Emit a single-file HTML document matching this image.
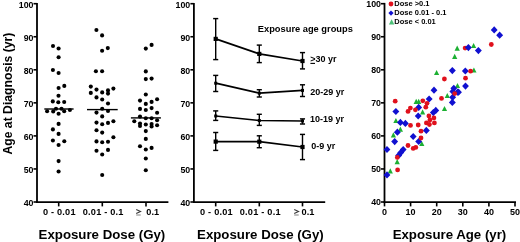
<!DOCTYPE html>
<html><head><meta charset="utf-8"><style>
html,body{margin:0;padding:0;background:#fff;width:520px;height:242px;overflow:hidden}
svg{display:block;filter:blur(0.3px)}
text{font-family:"Liberation Sans", sans-serif;font-weight:bold;fill:#000}
</style></head><body>
<svg width="520" height="242" viewBox="0 0 520 242">
<line x1="37.00" y1="2.90" x2="37.00" y2="203.10" stroke="#000" stroke-width="1.8"/>
<line x1="36.10" y1="202.20" x2="168.40" y2="202.20" stroke="#000" stroke-width="1.8"/>
<line x1="33.50" y1="202.00" x2="37.00" y2="202.00" stroke="#000" stroke-width="1.6"/>
<text x="33.50" y="205.80" font-size="9.6" text-anchor="end" textLength="9.82" lengthAdjust="spacingAndGlyphs">40</text>
<line x1="33.50" y1="168.95" x2="37.00" y2="168.95" stroke="#000" stroke-width="1.6"/>
<text x="33.50" y="172.75" font-size="9.6" text-anchor="end" textLength="9.82" lengthAdjust="spacingAndGlyphs">50</text>
<line x1="33.50" y1="135.90" x2="37.00" y2="135.90" stroke="#000" stroke-width="1.6"/>
<text x="33.50" y="139.70" font-size="9.6" text-anchor="end" textLength="9.82" lengthAdjust="spacingAndGlyphs">60</text>
<line x1="33.50" y1="102.85" x2="37.00" y2="102.85" stroke="#000" stroke-width="1.6"/>
<text x="33.50" y="106.65" font-size="9.6" text-anchor="end" textLength="9.82" lengthAdjust="spacingAndGlyphs">70</text>
<line x1="33.50" y1="69.80" x2="37.00" y2="69.80" stroke="#000" stroke-width="1.6"/>
<text x="33.50" y="73.60" font-size="9.6" text-anchor="end" textLength="9.82" lengthAdjust="spacingAndGlyphs">80</text>
<line x1="33.50" y1="36.75" x2="37.00" y2="36.75" stroke="#000" stroke-width="1.6"/>
<text x="33.50" y="40.55" font-size="9.6" text-anchor="end" textLength="9.82" lengthAdjust="spacingAndGlyphs">90</text>
<line x1="33.50" y1="3.70" x2="37.00" y2="3.70" stroke="#000" stroke-width="1.6"/>
<text x="33.50" y="7.50" font-size="9.6" text-anchor="end" textLength="14.73" lengthAdjust="spacingAndGlyphs">100</text>
<line x1="58.70" y1="202.00" x2="58.70" y2="206.40" stroke="#000" stroke-width="1.6"/>
<line x1="102.30" y1="202.00" x2="102.30" y2="206.40" stroke="#000" stroke-width="1.6"/>
<line x1="146.00" y1="202.00" x2="146.00" y2="206.40" stroke="#000" stroke-width="1.6"/>
<line x1="193.90" y1="2.90" x2="193.90" y2="203.10" stroke="#000" stroke-width="1.8"/>
<line x1="193.00" y1="202.20" x2="325.20" y2="202.20" stroke="#000" stroke-width="1.8"/>
<line x1="190.40" y1="202.00" x2="193.90" y2="202.00" stroke="#000" stroke-width="1.6"/>
<text x="190.20" y="205.80" font-size="9.6" text-anchor="end" textLength="9.82" lengthAdjust="spacingAndGlyphs">40</text>
<line x1="190.40" y1="168.95" x2="193.90" y2="168.95" stroke="#000" stroke-width="1.6"/>
<text x="190.20" y="172.75" font-size="9.6" text-anchor="end" textLength="9.82" lengthAdjust="spacingAndGlyphs">50</text>
<line x1="190.40" y1="135.90" x2="193.90" y2="135.90" stroke="#000" stroke-width="1.6"/>
<text x="190.20" y="139.70" font-size="9.6" text-anchor="end" textLength="9.82" lengthAdjust="spacingAndGlyphs">60</text>
<line x1="190.40" y1="102.85" x2="193.90" y2="102.85" stroke="#000" stroke-width="1.6"/>
<text x="190.20" y="106.65" font-size="9.6" text-anchor="end" textLength="9.82" lengthAdjust="spacingAndGlyphs">70</text>
<line x1="190.40" y1="69.80" x2="193.90" y2="69.80" stroke="#000" stroke-width="1.6"/>
<text x="190.20" y="73.60" font-size="9.6" text-anchor="end" textLength="9.82" lengthAdjust="spacingAndGlyphs">80</text>
<line x1="190.40" y1="36.75" x2="193.90" y2="36.75" stroke="#000" stroke-width="1.6"/>
<text x="190.20" y="40.55" font-size="9.6" text-anchor="end" textLength="9.82" lengthAdjust="spacingAndGlyphs">90</text>
<line x1="190.40" y1="3.70" x2="193.90" y2="3.70" stroke="#000" stroke-width="1.6"/>
<text x="190.20" y="7.50" font-size="9.6" text-anchor="end" textLength="14.73" lengthAdjust="spacingAndGlyphs">100</text>
<line x1="215.70" y1="202.00" x2="215.70" y2="206.40" stroke="#000" stroke-width="1.6"/>
<line x1="259.30" y1="202.00" x2="259.30" y2="206.40" stroke="#000" stroke-width="1.6"/>
<line x1="302.50" y1="202.00" x2="302.50" y2="206.40" stroke="#000" stroke-width="1.6"/>
<line x1="384.50" y1="2.90" x2="384.50" y2="203.10" stroke="#000" stroke-width="1.8"/>
<line x1="383.60" y1="202.20" x2="516.00" y2="202.20" stroke="#000" stroke-width="1.8"/>
<line x1="381.00" y1="202.00" x2="384.50" y2="202.00" stroke="#000" stroke-width="1.6"/>
<text x="381.00" y="205.40" font-size="9.6" text-anchor="end" textLength="9.82" lengthAdjust="spacingAndGlyphs">40</text>
<line x1="381.00" y1="168.95" x2="384.50" y2="168.95" stroke="#000" stroke-width="1.6"/>
<text x="381.00" y="172.35" font-size="9.6" text-anchor="end" textLength="9.82" lengthAdjust="spacingAndGlyphs">50</text>
<line x1="381.00" y1="135.90" x2="384.50" y2="135.90" stroke="#000" stroke-width="1.6"/>
<text x="381.00" y="139.30" font-size="9.6" text-anchor="end" textLength="9.82" lengthAdjust="spacingAndGlyphs">60</text>
<line x1="381.00" y1="102.85" x2="384.50" y2="102.85" stroke="#000" stroke-width="1.6"/>
<text x="381.00" y="106.25" font-size="9.6" text-anchor="end" textLength="9.82" lengthAdjust="spacingAndGlyphs">70</text>
<line x1="381.00" y1="69.80" x2="384.50" y2="69.80" stroke="#000" stroke-width="1.6"/>
<text x="381.00" y="73.20" font-size="9.6" text-anchor="end" textLength="9.82" lengthAdjust="spacingAndGlyphs">80</text>
<line x1="381.00" y1="36.75" x2="384.50" y2="36.75" stroke="#000" stroke-width="1.6"/>
<text x="381.00" y="40.15" font-size="9.6" text-anchor="end" textLength="9.82" lengthAdjust="spacingAndGlyphs">90</text>
<line x1="381.00" y1="3.70" x2="384.50" y2="3.70" stroke="#000" stroke-width="1.6"/>
<text x="381.00" y="7.10" font-size="9.6" text-anchor="end" textLength="14.73" lengthAdjust="spacingAndGlyphs">100</text>
<line x1="384.50" y1="202.00" x2="384.50" y2="206.40" stroke="#000" stroke-width="1.6"/>
<text x="384.50" y="215.00" font-size="9" text-anchor="middle" >0</text>
<line x1="410.60" y1="202.00" x2="410.60" y2="206.40" stroke="#000" stroke-width="1.6"/>
<text x="410.60" y="215.00" font-size="9" text-anchor="middle" >10</text>
<line x1="436.70" y1="202.00" x2="436.70" y2="206.40" stroke="#000" stroke-width="1.6"/>
<text x="436.70" y="215.00" font-size="9" text-anchor="middle" >20</text>
<line x1="462.80" y1="202.00" x2="462.80" y2="206.40" stroke="#000" stroke-width="1.6"/>
<text x="462.80" y="215.00" font-size="9" text-anchor="middle" >30</text>
<line x1="488.90" y1="202.00" x2="488.90" y2="206.40" stroke="#000" stroke-width="1.6"/>
<text x="488.90" y="215.00" font-size="9" text-anchor="middle" >40</text>
<line x1="515.00" y1="202.00" x2="515.00" y2="206.40" stroke="#000" stroke-width="1.6"/>
<text x="515.00" y="215.00" font-size="9" text-anchor="middle" >50</text>
<text x="59.20" y="215.1" font-size="9.2" text-anchor="middle" textLength="32.6" lengthAdjust="spacing">0 - 0.01</text>
<text x="103.10" y="215.1" font-size="9.2" text-anchor="middle" textLength="40.8" lengthAdjust="spacing">0.01 - 0.1</text>
<path d="M136.20,209.4 L140.50,211.4 L136.20,213.4" fill="none" stroke="#3a3a3a" stroke-width="1.15"/>
<path d="M136.20,215.0 L140.70,215.0" fill="none" stroke="#8a8a8a" stroke-width="1.1"/>
<text x="146.30" y="215.1" font-size="9.2">0.1</text>
<text x="216.35" y="215.1" font-size="9.2" text-anchor="middle" textLength="32.6" lengthAdjust="spacing">0 - 0.01</text>
<text x="260.15" y="215.1" font-size="9.2" text-anchor="middle" textLength="40.8" lengthAdjust="spacing">0.01 - 0.1</text>
<path d="M294.20,209.4 L298.50,211.4 L294.20,213.4" fill="none" stroke="#3a3a3a" stroke-width="1.15"/>
<path d="M294.20,215.0 L298.70,215.0" fill="none" stroke="#8a8a8a" stroke-width="1.1"/>
<text x="301.60" y="215.1" font-size="9.2">0.1</text>
<text x="101.95" y="238.70" font-size="13.25" text-anchor="middle" >Exposure Dose (Gy)</text>
<text x="260.40" y="238.70" font-size="13.25" text-anchor="middle" >Exposure Dose (Gy)</text>
<text x="449.45" y="238.70" font-size="13.25" text-anchor="middle" >Exposure Age (yr)</text>
<text x="0" y="0" font-size="12.2" text-anchor="middle" transform="translate(11.9 93.6) rotate(-90)">Age at Diagnosis (yr)</text>
<circle cx="53.0" cy="46.0" r="2.05"/>
<circle cx="58.6" cy="48.5" r="2.05"/>
<circle cx="58.6" cy="57.3" r="2.05"/>
<circle cx="52.9" cy="70.0" r="2.05"/>
<circle cx="58.6" cy="73.0" r="2.05"/>
<circle cx="64.3" cy="85.9" r="2.05"/>
<circle cx="58.6" cy="88.0" r="2.05"/>
<circle cx="58.5" cy="95.8" r="2.05"/>
<circle cx="52.8" cy="101.4" r="2.05"/>
<circle cx="58.3" cy="102.2" r="2.05"/>
<circle cx="64.2" cy="102.0" r="2.05"/>
<circle cx="47.1" cy="111.2" r="2.05"/>
<circle cx="53.2" cy="111.4" r="2.05"/>
<circle cx="56.0" cy="108.8" r="2.05"/>
<circle cx="58.6" cy="113.7" r="2.05"/>
<circle cx="61.5" cy="108.8" r="2.05"/>
<circle cx="64.2" cy="111.3" r="2.05"/>
<circle cx="69.9" cy="110.0" r="2.05"/>
<circle cx="58.6" cy="123.9" r="2.05"/>
<circle cx="52.9" cy="129.4" r="2.05"/>
<circle cx="58.6" cy="133.9" r="2.05"/>
<circle cx="52.9" cy="140.5" r="2.05"/>
<circle cx="64.3" cy="141.3" r="2.05"/>
<circle cx="58.6" cy="145.0" r="2.05"/>
<circle cx="58.6" cy="161.1" r="2.05"/>
<circle cx="58.6" cy="171.5" r="2.05"/>
<circle cx="96.4" cy="30.0" r="2.05"/>
<circle cx="102.1" cy="35.4" r="2.05"/>
<circle cx="107.8" cy="48.1" r="2.05"/>
<circle cx="102.1" cy="50.8" r="2.05"/>
<circle cx="95.9" cy="71.2" r="2.05"/>
<circle cx="102.1" cy="71.2" r="2.05"/>
<circle cx="90.8" cy="86.6" r="2.05"/>
<circle cx="96.5" cy="89.6" r="2.05"/>
<circle cx="90.8" cy="92.9" r="2.05"/>
<circle cx="102.2" cy="92.4" r="2.05"/>
<circle cx="108.0" cy="90.4" r="2.05"/>
<circle cx="108.0" cy="93.6" r="2.05"/>
<circle cx="113.4" cy="88.6" r="2.05"/>
<circle cx="96.5" cy="97.4" r="2.05"/>
<circle cx="102.2" cy="99.5" r="2.05"/>
<circle cx="108.0" cy="103.5" r="2.05"/>
<circle cx="102.2" cy="108.8" r="2.05"/>
<circle cx="108.0" cy="111.0" r="2.05"/>
<circle cx="96.5" cy="112.6" r="2.05"/>
<circle cx="102.2" cy="116.4" r="2.05"/>
<circle cx="113.4" cy="121.2" r="2.05"/>
<circle cx="96.5" cy="122.6" r="2.05"/>
<circle cx="102.2" cy="124.2" r="2.05"/>
<circle cx="108.0" cy="122.9" r="2.05"/>
<circle cx="96.5" cy="130.2" r="2.05"/>
<circle cx="102.2" cy="132.6" r="2.05"/>
<circle cx="113.4" cy="137.3" r="2.05"/>
<circle cx="96.5" cy="141.4" r="2.05"/>
<circle cx="102.2" cy="142.2" r="2.05"/>
<circle cx="108.0" cy="141.7" r="2.05"/>
<circle cx="96.5" cy="150.7" r="2.05"/>
<circle cx="108.0" cy="149.9" r="2.05"/>
<circle cx="102.2" cy="154.5" r="2.05"/>
<circle cx="102.2" cy="175.0" r="2.05"/>
<circle cx="151.6" cy="44.9" r="2.05"/>
<circle cx="145.8" cy="48.6" r="2.05"/>
<circle cx="145.8" cy="71.4" r="2.05"/>
<circle cx="145.8" cy="79.1" r="2.05"/>
<circle cx="151.6" cy="78.6" r="2.05"/>
<circle cx="145.8" cy="94.5" r="2.05"/>
<circle cx="140.0" cy="100.6" r="2.05"/>
<circle cx="145.8" cy="103.9" r="2.05"/>
<circle cx="151.6" cy="101.9" r="2.05"/>
<circle cx="157.1" cy="99.3" r="2.05"/>
<circle cx="140.0" cy="108.9" r="2.05"/>
<circle cx="145.8" cy="110.0" r="2.05"/>
<circle cx="151.6" cy="108.1" r="2.05"/>
<circle cx="157.1" cy="112.7" r="2.05"/>
<circle cx="134.3" cy="121.2" r="2.05"/>
<circle cx="140.0" cy="116.6" r="2.05"/>
<circle cx="145.8" cy="118.3" r="2.05"/>
<circle cx="151.6" cy="118.3" r="2.05"/>
<circle cx="157.1" cy="120.3" r="2.05"/>
<circle cx="140.0" cy="123.5" r="2.05"/>
<circle cx="140.0" cy="126.0" r="2.05"/>
<circle cx="145.8" cy="124.5" r="2.05"/>
<circle cx="151.6" cy="124.0" r="2.05"/>
<circle cx="151.6" cy="126.5" r="2.05"/>
<circle cx="157.1" cy="125.3" r="2.05"/>
<circle cx="145.8" cy="131.1" r="2.05"/>
<circle cx="145.8" cy="138.9" r="2.05"/>
<circle cx="140.0" cy="146.2" r="2.05"/>
<circle cx="145.8" cy="149.5" r="2.05"/>
<circle cx="151.6" cy="147.9" r="2.05"/>
<circle cx="145.8" cy="158.5" r="2.05"/>
<circle cx="145.8" cy="170.2" r="2.05"/>
<line x1="44.30" y1="109.00" x2="73.60" y2="109.00" stroke="#000" stroke-width="1.4"/>
<line x1="87.00" y1="109.60" x2="117.70" y2="109.60" stroke="#000" stroke-width="1.4"/>
<line x1="130.90" y1="117.90" x2="160.90" y2="117.90" stroke="#000" stroke-width="1.4"/>
<polyline points="215.7,38.9 259.3,53.9 302.5,61.0" fill="none" stroke="#000" stroke-width="1.7"/>
<line x1="215.70" y1="18.60" x2="215.70" y2="59.60" stroke="#000" stroke-width="1.4"/>
<line x1="213.15" y1="18.60" x2="218.25" y2="18.60" stroke="#000" stroke-width="1.45"/>
<line x1="213.15" y1="59.60" x2="218.25" y2="59.60" stroke="#000" stroke-width="1.45"/>
<rect x="213.60" y="36.80" width="4.2" height="4.2"/>
<line x1="259.30" y1="45.10" x2="259.30" y2="62.60" stroke="#000" stroke-width="1.4"/>
<line x1="256.75" y1="45.10" x2="261.85" y2="45.10" stroke="#000" stroke-width="1.45"/>
<line x1="256.75" y1="62.60" x2="261.85" y2="62.60" stroke="#000" stroke-width="1.45"/>
<rect x="257.20" y="51.80" width="4.2" height="4.2"/>
<line x1="302.50" y1="52.60" x2="302.50" y2="68.90" stroke="#000" stroke-width="1.4"/>
<line x1="299.95" y1="52.60" x2="305.05" y2="52.60" stroke="#000" stroke-width="1.45"/>
<line x1="299.95" y1="68.90" x2="305.05" y2="68.90" stroke="#000" stroke-width="1.45"/>
<rect x="300.40" y="58.90" width="4.2" height="4.2"/>
<polyline points="215.7,83.2 259.3,93.2 302.5,90.4" fill="none" stroke="#000" stroke-width="1.7"/>
<line x1="215.70" y1="75.40" x2="215.70" y2="91.50" stroke="#000" stroke-width="1.4"/>
<line x1="213.15" y1="75.40" x2="218.25" y2="75.40" stroke="#000" stroke-width="1.45"/>
<line x1="213.15" y1="91.50" x2="218.25" y2="91.50" stroke="#000" stroke-width="1.45"/>
<rect x="214.20" y="81.70" width="3.0" height="3.0"/>
<line x1="259.30" y1="89.70" x2="259.30" y2="97.00" stroke="#000" stroke-width="1.4"/>
<line x1="256.75" y1="89.70" x2="261.85" y2="89.70" stroke="#000" stroke-width="1.45"/>
<line x1="256.75" y1="97.00" x2="261.85" y2="97.00" stroke="#000" stroke-width="1.45"/>
<rect x="257.80" y="91.70" width="3.0" height="3.0"/>
<line x1="302.50" y1="84.80" x2="302.50" y2="96.50" stroke="#000" stroke-width="1.4"/>
<line x1="299.95" y1="84.80" x2="305.05" y2="84.80" stroke="#000" stroke-width="1.45"/>
<line x1="299.95" y1="96.50" x2="305.05" y2="96.50" stroke="#000" stroke-width="1.45"/>
<rect x="301.00" y="88.90" width="3.0" height="3.0"/>
<polyline points="215.7,116.0 259.3,120.5 302.5,121.0" fill="none" stroke="#000" stroke-width="1.7"/>
<line x1="215.70" y1="110.90" x2="215.70" y2="120.40" stroke="#000" stroke-width="1.4"/>
<line x1="213.15" y1="110.90" x2="218.25" y2="110.90" stroke="#000" stroke-width="1.45"/>
<line x1="213.15" y1="120.40" x2="218.25" y2="120.40" stroke="#000" stroke-width="1.45"/>
<rect x="214.20" y="114.50" width="3.0" height="3.0"/>
<line x1="259.30" y1="114.30" x2="259.30" y2="125.40" stroke="#000" stroke-width="1.4"/>
<line x1="256.75" y1="114.30" x2="261.85" y2="114.30" stroke="#000" stroke-width="1.45"/>
<line x1="256.75" y1="125.40" x2="261.85" y2="125.40" stroke="#000" stroke-width="1.45"/>
<rect x="257.80" y="119.00" width="3.0" height="3.0"/>
<line x1="302.50" y1="118.90" x2="302.50" y2="124.00" stroke="#000" stroke-width="1.4"/>
<line x1="299.95" y1="118.90" x2="305.05" y2="118.90" stroke="#000" stroke-width="1.45"/>
<line x1="299.95" y1="124.00" x2="305.05" y2="124.00" stroke="#000" stroke-width="1.45"/>
<rect x="301.00" y="119.50" width="3.0" height="3.0"/>
<polyline points="215.7,141.6 259.3,141.7 302.5,147.0" fill="none" stroke="#000" stroke-width="1.7"/>
<line x1="215.70" y1="132.50" x2="215.70" y2="150.40" stroke="#000" stroke-width="1.4"/>
<line x1="213.15" y1="132.50" x2="218.25" y2="132.50" stroke="#000" stroke-width="1.45"/>
<line x1="213.15" y1="150.40" x2="218.25" y2="150.40" stroke="#000" stroke-width="1.45"/>
<rect x="213.60" y="139.50" width="4.2" height="4.2"/>
<line x1="259.30" y1="135.80" x2="259.30" y2="147.70" stroke="#000" stroke-width="1.4"/>
<line x1="256.75" y1="135.80" x2="261.85" y2="135.80" stroke="#000" stroke-width="1.45"/>
<line x1="256.75" y1="147.70" x2="261.85" y2="147.70" stroke="#000" stroke-width="1.45"/>
<rect x="257.20" y="139.60" width="4.2" height="4.2"/>
<line x1="302.50" y1="134.40" x2="302.50" y2="159.60" stroke="#000" stroke-width="1.4"/>
<line x1="299.95" y1="134.40" x2="305.05" y2="134.40" stroke="#000" stroke-width="1.45"/>
<line x1="299.95" y1="159.60" x2="305.05" y2="159.60" stroke="#000" stroke-width="1.45"/>
<rect x="300.40" y="144.90" width="4.2" height="4.2"/>
<text x="257.80" y="32.30" font-size="9.3" text-anchor="start" >Exposure age groups</text>
<text x="310.2" y="62.1" font-size="9">&gt;30 yr</text>
<line x1="310.40" y1="63.40" x2="315.00" y2="63.40" stroke="#000" stroke-width="1.1"/>
<text x="310.20" y="94.50" font-size="9" text-anchor="start" >20-29 yr</text>
<text x="309.90" y="121.90" font-size="9" text-anchor="start" >10-19 yr</text>
<text x="311.30" y="149.20" font-size="9" text-anchor="start" >0-9 yr</text>
<polygon points="390.3,168.3 392.9,173.4 387.7,173.4" fill="#1cb032"/>
<polygon points="397.2,159.1 399.8,164.2 394.6,164.2" fill="#1cb032"/>
<polygon points="395.9,117.9 398.5,123.0 393.3,123.0" fill="#1cb032"/>
<polygon points="400.4,126.6 403.0,131.7 397.8,131.7" fill="#1cb032"/>
<polygon points="393.4,132.3 396.0,137.4 390.8,137.4" fill="#1cb032"/>
<polygon points="416.2,98.8 418.8,103.9 413.6,103.9" fill="#1cb032"/>
<polygon points="418.7,98.8 421.3,103.9 416.1,103.9" fill="#1cb032"/>
<polygon points="422.6,109.3 425.2,114.4 420.0,114.4" fill="#1cb032"/>
<polygon points="421.8,140.9 424.4,146.0 419.2,146.0" fill="#1cb032"/>
<polygon points="444.5,106.0 447.1,111.1 441.9,111.1" fill="#1cb032"/>
<polygon points="447.3,92.9 449.9,98.0 444.7,98.0" fill="#1cb032"/>
<polygon points="457.5,83.0 460.1,88.1 454.9,88.1" fill="#1cb032"/>
<polygon points="436.6,69.9 439.2,75.0 434.0,75.0" fill="#1cb032"/>
<polygon points="454.7,53.8 457.3,58.9 452.1,58.9" fill="#1cb032"/>
<polygon points="457.2,45.6 459.8,50.7 454.6,50.7" fill="#1cb032"/>
<polygon points="473.6,42.9 476.2,48.0 471.0,48.0" fill="#1cb032"/>
<polygon points="473.9,67.5 476.5,72.6 471.3,72.6" fill="#1cb032"/>
<polygon points="387.0,171.3 390.4,174.9 387.0,178.5 383.6,174.9" fill="#1010d0"/>
<polygon points="387.0,145.9 390.4,149.5 387.0,153.1 383.6,149.5" fill="#1010d0"/>
<polygon points="394.7,138.0 398.1,141.6 394.7,145.2 391.2,141.6" fill="#1010d0"/>
<polygon points="397.4,128.6 400.8,132.2 397.4,135.8 393.9,132.2" fill="#1010d0"/>
<polygon points="400.4,118.8 403.8,122.4 400.4,126.0 396.9,122.4" fill="#1010d0"/>
<polygon points="405.4,119.8 408.8,123.4 405.4,127.0 401.9,123.4" fill="#1010d0"/>
<polygon points="413.2,132.9 416.6,136.5 413.2,140.1 409.8,136.5" fill="#1010d0"/>
<polygon points="418.7,137.9 422.1,141.5 418.7,145.1 415.2,141.5" fill="#1010d0"/>
<polygon points="403.2,146.0 406.6,149.6 403.2,153.2 399.8,149.6" fill="#1010d0"/>
<polygon points="400.8,149.0 404.2,152.6 400.8,156.2 397.4,152.6" fill="#1010d0"/>
<polygon points="398.6,151.8 402.1,155.4 398.6,159.0 395.2,155.4" fill="#1010d0"/>
<polygon points="395.9,107.9 399.3,111.5 395.9,115.1 392.4,111.5" fill="#1010d0"/>
<polygon points="418.7,103.8 422.1,107.4 418.7,111.0 415.2,107.4" fill="#1010d0"/>
<polygon points="418.2,112.4 421.6,116.0 418.2,119.6 414.8,116.0" fill="#1010d0"/>
<polygon points="426.3,126.8 429.8,130.4 426.3,134.0 422.9,130.4" fill="#1010d0"/>
<polygon points="429.1,95.4 432.6,99.0 429.1,102.6 425.7,99.0" fill="#1010d0"/>
<polygon points="434.0,86.6 437.4,90.2 434.0,93.8 430.6,90.2" fill="#1010d0"/>
<polygon points="435.8,106.8 439.2,110.4 435.8,114.0 432.4,110.4" fill="#1010d0"/>
<polygon points="433.3,109.0 436.8,112.6 433.3,116.2 429.9,112.6" fill="#1010d0"/>
<polygon points="453.8,84.7 457.2,88.3 453.8,91.9 450.4,88.3" fill="#1010d0"/>
<polygon points="452.8,87.9 456.2,91.5 452.8,95.1 449.4,91.5" fill="#1010d0"/>
<polygon points="457.6,88.6 461.1,92.2 457.6,95.8 454.2,92.2" fill="#1010d0"/>
<polygon points="452.6,93.7 456.1,97.3 452.6,100.9 449.2,97.3" fill="#1010d0"/>
<polygon points="452.3,98.8 455.8,102.4 452.3,106.0 448.9,102.4" fill="#1010d0"/>
<polygon points="452.3,67.0 455.8,70.6 452.3,74.2 448.9,70.6" fill="#1010d0"/>
<polygon points="465.3,67.4 468.8,71.0 465.3,74.6 461.9,71.0" fill="#1010d0"/>
<polygon points="465.5,82.5 468.9,86.1 465.5,89.7 462.1,86.1" fill="#1010d0"/>
<polygon points="458.5,88.6 461.9,92.2 458.5,95.8 455.1,92.2" fill="#1010d0"/>
<polygon points="478.4,47.0 481.8,50.6 478.4,54.2 474.9,50.6" fill="#1010d0"/>
<polygon points="494.2,26.3 497.6,29.9 494.2,33.5 490.8,29.9" fill="#1010d0"/>
<polygon points="499.6,31.6 503.1,35.2 499.6,38.8 496.2,35.2" fill="#1010d0"/>
<circle cx="395.2" cy="101.2" r="2.4" fill="#e0101c"/>
<circle cx="410.4" cy="108.1" r="2.4" fill="#e0101c"/>
<circle cx="408.0" cy="111.4" r="2.4" fill="#e0101c"/>
<circle cx="415.4" cy="109.8" r="2.4" fill="#e0101c"/>
<circle cx="422.8" cy="100.8" r="2.4" fill="#e0101c"/>
<circle cx="410.5" cy="125.4" r="2.4" fill="#e0101c"/>
<circle cx="418.2" cy="125.0" r="2.4" fill="#e0101c"/>
<circle cx="421.0" cy="131.2" r="2.4" fill="#e0101c"/>
<circle cx="421.0" cy="138.0" r="2.4" fill="#e0101c"/>
<circle cx="408.0" cy="145.5" r="2.4" fill="#e0101c"/>
<circle cx="413.2" cy="148.4" r="2.4" fill="#e0101c"/>
<circle cx="415.8" cy="147.4" r="2.4" fill="#e0101c"/>
<circle cx="397.3" cy="157.4" r="2.4" fill="#e0101c"/>
<circle cx="397.6" cy="169.9" r="2.4" fill="#e0101c"/>
<circle cx="428.9" cy="115.9" r="2.4" fill="#e0101c"/>
<circle cx="433.9" cy="117.9" r="2.4" fill="#e0101c"/>
<circle cx="429.9" cy="119.9" r="2.4" fill="#e0101c"/>
<circle cx="426.4" cy="122.9" r="2.4" fill="#e0101c"/>
<circle cx="429.4" cy="124.5" r="2.4" fill="#e0101c"/>
<circle cx="434.4" cy="122.9" r="2.4" fill="#e0101c"/>
<circle cx="427.0" cy="103.3" r="2.4" fill="#e0101c"/>
<circle cx="425.8" cy="107.2" r="2.4" fill="#e0101c"/>
<circle cx="441.5" cy="98.4" r="2.4" fill="#e0101c"/>
<circle cx="444.4" cy="79.0" r="2.4" fill="#e0101c"/>
<circle cx="454.7" cy="93.6" r="2.4" fill="#e0101c"/>
<circle cx="465.5" cy="78.2" r="2.4" fill="#e0101c"/>
<circle cx="470.6" cy="71.2" r="2.4" fill="#e0101c"/>
<circle cx="465.1" cy="48.1" r="2.4" fill="#e0101c"/>
<circle cx="491.3" cy="44.5" r="2.4" fill="#e0101c"/>
<polygon points="468.4,44.0 471.8,47.6 468.4,51.2 464.9,47.6" fill="#1010d0"/>
<circle cx="391.0" cy="4.0" r="2.4" fill="#e0101c"/>
<text x="394.30" y="5.50" font-size="7.5" text-anchor="start" >Dose &gt;0.1</text>
<polygon points="391.0,10.5 393.6,13.1 391.0,15.7 388.4,13.1" fill="#1010d0"/>
<text x="394.30" y="14.60" font-size="7.5" text-anchor="start" >Dose 0.01 - 0.1</text>
<polygon points="391.6,19.3 394.3,24.4 388.9,24.4" fill="#4cc078"/>
<text x="394.30" y="23.70" font-size="7.5" text-anchor="start" >Dose &lt; 0.01</text>
</svg>
</body></html>
